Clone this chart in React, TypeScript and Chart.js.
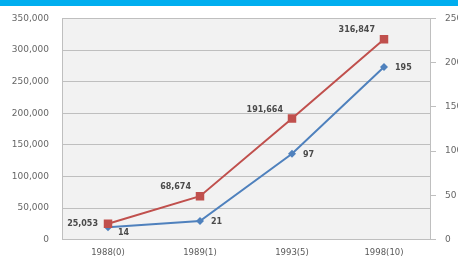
import React, { useEffect, useRef } from "react";
import { Chart, registerables } from "chart.js";

Chart.register(...registerables);

const categories = ["1988(0)", "1989(1)", "1993(5)", "1998(10)"];
const redValues = [25053, 68674, 191664, 316847];
const blueValues = [14, 21, 97, 195];

const RED = "#C0504D";
const BLUE = "#4F81BD";

const bgPlugin = {
  id: "plotBg",
  beforeDraw(chart: any) {
    const { ctx, chartArea } = chart;
    ctx.save();
    ctx.fillStyle = "#f2f2f2";
    ctx.fillRect(chartArea.left, chartArea.top, chartArea.right - chartArea.left, chartArea.bottom - chartArea.top);
    ctx.restore();
  },
};

const labelPlugin = {
  id: "valueLabels",
  afterDatasetsDraw(chart: any) {
    const { ctx } = chart;
    ctx.save();
    ctx.font = "bold 8px 'DejaVu Sans', sans-serif";
    ctx.fillStyle = "#4a4a4a";
    ctx.textBaseline = "middle";
    chart.data.datasets.forEach((ds: any, di: number) => {
      const meta = chart.getDatasetMeta(di);
      meta.data.forEach((pt: any, i: number) => {
        const v = ds.data[i];
        const text = di === 0 ? v.toLocaleString("en-US") : String(v);
        if (di === 0) {
          ctx.textAlign = "right";
          if (i === 0) ctx.fillText(text, pt.x - 10, pt.y);
          else ctx.fillText(text, pt.x - 9, pt.y - 9);
        } else {
          ctx.textAlign = "left";
          if (i === 0) ctx.fillText(text, pt.x + 10, pt.y + 6);
          else ctx.fillText(text, pt.x + 11, pt.y + 1);
        }
      });
    });
    ctx.restore();
  },
};

export default function App() {
  const ref = useRef<HTMLCanvasElement | null>(null);
  useEffect(() => {
    document.body.style.margin = "0";
    const canvas = ref.current!;
    const tickFont = { family: "'DejaVu Sans', sans-serif", size: 9 };
    const xFont = { family: "'DejaVu Sans', sans-serif", size: 8.5 };
    const chart = new Chart(canvas, {
      type: "line",
      data: {
        labels: categories,
        datasets: [
          {
            data: redValues,
            borderColor: RED,
            backgroundColor: RED,
            borderWidth: 2,
            pointStyle: "rect",
            pointRadius: 6,
            pointBorderWidth: 0,
            yAxisID: "y",
            tension: 0,
          },
          {
            data: blueValues,
            borderColor: BLUE,
            backgroundColor: BLUE,
            borderWidth: 2,
            pointStyle: "rectRot",
            pointRadius: 4,
            pointBorderWidth: 0,
            yAxisID: "y1",
            tension: 0,
          },
        ],
      },
      options: {
        animation: false,
        responsive: false,
        maintainAspectRatio: false,
        layout: { padding: { top: 9, bottom: 0, left: 0, right: 0 } },
        plugins: { legend: { display: false }, tooltip: { enabled: false } },
        scales: {
          x: {
            offset: true,
            grid: { display: false, drawTicks: false },
            border: { display: true, color: "#bfbfbf" },
            ticks: { font: xFont, color: "#595959", padding: 8, maxRotation: 0 },
            afterFit(scale: any) {
              scale.height = 18;
            },
          },
          y: {
            position: "left",
            min: 0,
            max: 350000,
            grid: { color: "#bfbfbf", drawTicks: false },
            border: { display: true, color: "#bfbfbf" },
            ticks: {
              stepSize: 50000,
              font: tickFont,
              color: "#666666",
              padding: 13,
              callback: (v: any) => Number(v).toLocaleString("en-US"),
            },
            afterFit(scale: any) {
              scale.width = 62;
            },
          },
          y1: {
            position: "right",
            min: 0,
            max: 250,
            grid: { drawOnChartArea: false, drawTicks: true, tickLength: 6, color: "#bfbfbf" },
            border: { display: true, color: "#bfbfbf" },
            ticks: { stepSize: 50, font: tickFont, color: "#666666", padding: 9 },
            afterFit(scale: any) {
              scale.width = 50;
            },
          },
        },
      },
      plugins: [bgPlugin, labelPlugin],
    });
    return () => chart.destroy();
  }, []);
  return (
    <div style={{ position: "relative", width: 458, height: 258, overflow: "hidden", background: "#fff" }}>
      <canvas ref={ref} width={480} height={258} style={{ display: "block" }} />
      <div style={{ position: "absolute", left: 0, top: 0, width: 458, height: 6, background: "#00AEEF" }} />
    </div>
  );
}
